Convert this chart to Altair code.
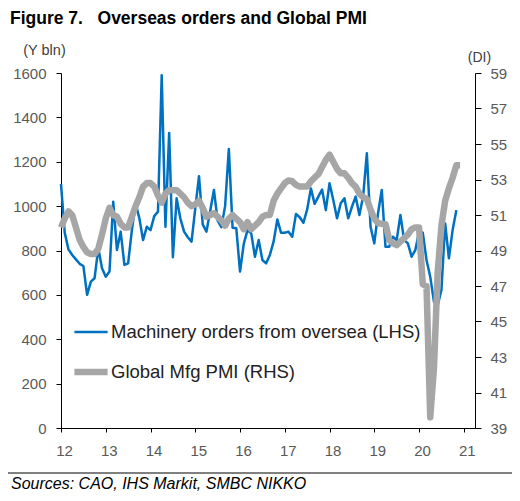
import altair as alt
import pandas as pd

# ---- data ----
ORDERS_SERIES = "Machinery orders from oversea (LHS)"
PMI_SERIES = "Global Mfg PMI (RHS)"

# Machinery orders from overseas, Y bln, monthly from Jan 2012
orders_2012 = [1100, 880, 805, 780, 760, 740, 730, 600, 660, 675, 810, 720]
orders_2013 = [682, 705, 1020, 802, 885, 735, 742, 892, 1013, 946, 847, 907]
orders_2014 = [892, 955, 975, 1590, 907, 1330, 770, 1035, 945, 885, 860, 840]
orders_2015 = [990, 1135, 918, 885, 978, 1073, 935, 905, 1000, 1258, 903, 900]
orders_2016 = [705, 830, 892, 877, 772, 847, 757, 742, 780, 840, 940, 880]
orders_2017 = [880, 885, 862, 965, 950, 925, 985, 1080, 1010, 1043, 1075, 982]
orders_2018 = [1103, 1028, 945, 1013, 1035, 945, 997, 1043, 960, 1043, 1238, 907]
orders_2019 = [832, 968, 1073, 817, 817, 862, 847, 960, 847, 832, 772, 802]
orders_2020 = [885, 880, 757, 682, 569, 554, 622, 922, 765, 892, 982]

# Global manufacturing PMI (DI), monthly from Jan 2012
pmi_2012 = [50.3, 50.8, 51.2, 51.0, 50.3, 49.6, 49.2, 48.9, 48.8, 48.8, 49.1, 49.9]
pmi_2013 = [50.8, 51.4, 51.0, 50.9, 50.5, 50.3, 50.3, 50.9, 51.5, 52.0, 52.6, 52.8]
pmi_2014 = [52.8, 52.6, 52.1, 51.7, 52.2, 52.4, 52.4, 52.4, 52.2, 52.0, 51.7, 51.5]
pmi_2015 = [51.6, 51.8, 51.4, 50.9, 51.0, 51.1, 50.9, 50.7, 50.4, 50.8, 51.0, 50.8]
pmi_2016 = [50.6, 50.2, 50.6, 50.2, 50.4, 50.6, 50.9, 51.0, 51.0, 51.8, 52.2, 52.5]
pmi_2017 = [52.8, 52.95, 52.9, 52.7, 52.6, 52.6, 52.6, 52.9, 53.1, 53.3, 53.7, 54.1]
pmi_2018 = [54.4, 54.0, 53.6, 53.35, 53.35, 53.1, 52.8, 52.6, 52.2, 52.0, 51.9, 51.3]
pmi_2019 = [50.8, 50.55, 50.5, 50.5, 49.6, 49.4, 49.3, 49.5, 49.7, 49.9, 50.2, 50.3]
pmi_2020 = [50.3, 47.1, 47.0, 39.6, 42.4, 47.8, 50.4, 51.8, 52.5, 53.1, 53.8, 53.8]

START_YEAR = 2012
YEAR_TICKS = list(range(2012, 2022))
LEFT_TICKS = list(range(0, 1601, 200))
RIGHT_TICKS = list(range(39, 60, 2))

TITLE = "Figure 7.\u00a0\u00a0 Overseas orders and Global PMI"
SOURCE = "Sources: CAO, IHS Markit, SMBC NIKKO"

orders = (orders_2012 + orders_2013 + orders_2014 + orders_2015 + orders_2016
          + orders_2017 + orders_2018 + orders_2019 + orders_2020)
pmi = (pmi_2012 + pmi_2013 + pmi_2014 + pmi_2015 + pmi_2016
       + pmi_2017 + pmi_2018 + pmi_2019 + pmi_2020)

orders_df = pd.DataFrame({
    "year": [START_YEAR + i / 12 for i in range(len(orders))],
    "value": orders,
    "series": ORDERS_SERIES,
})
pmi_df = pd.DataFrame({
    "year": [START_YEAR + i / 12 for i in range(len(pmi))],
    "value": pmi,
    "series": PMI_SERIES,
})

BLUE = "#0070C0"
GRAY = "#A6A6A6"
FONT = "Liberation Sans"
LABEL_COLOR = "#595959"

x_enc = alt.X(
    "year:Q",
    scale=alt.Scale(domain=[2012, 2021.25], nice=False, zero=False),
    axis=alt.Axis(
        values=YEAR_TICKS,
        labelExpr="slice(toString(datum.value), 2)",
        title=None, grid=False, labelFlush=False,
        domainColor="#000000", tickColor="#000000", tickSize=4,
        labelFontSize=15, labelColor=LABEL_COLOR, labelPadding=11,
        labelFont=FONT, labelOffset=3,
    ),
)

legend = alt.Legend(
    orient="none", legendX=10, legendY=241, title=None,
    symbolType="stroke", symbolSize=1100,
    labelFontSize=18.5, labelColor="#222222", labelFont=FONT,
    labelOffset=0, rowPadding=10, padding=0, labelLimit=0,
)

color_enc = alt.Color(
    "series:N",
    scale=alt.Scale(domain=[ORDERS_SERIES, PMI_SERIES], range=[BLUE, GRAY]),
    legend=legend,
)
width_enc = alt.StrokeWidth(
    "series:N",
    scale=alt.Scale(domain=[ORDERS_SERIES, PMI_SERIES], range=[2.5, 6.5]),
    legend=legend,
)

orders_line = alt.Chart(orders_df).mark_line(strokeJoin="round").encode(
    x=x_enc,
    y=alt.Y(
        "value:Q",
        scale=alt.Scale(domain=[0, 1600], nice=False),
        axis=alt.Axis(
            orient="left", values=LEFT_TICKS, grid=False, format="d",
            title="(Y bln)", titleAngle=0, titleX=-17, titleY=-19,
            titleAlign="center", titleBaseline="alphabetic",
            titleFontSize=14.5, titleFontWeight="normal", titleColor="#404040",
            titleFont=FONT,
            domainColor="#000000", tickColor="#000000", tickSize=5,
            labelFontSize=15, labelColor=LABEL_COLOR, labelPadding=10,
            labelFont=FONT,
        ),
    ),
    color=color_enc,
    strokeWidth=width_enc,
)

pmi_line = alt.Chart(pmi_df).mark_line(strokeJoin="round").encode(
    x=x_enc,
    y=alt.Y(
        "value:Q",
        scale=alt.Scale(domain=[39, 59], nice=False, zero=False),
        axis=alt.Axis(
            orient="right", values=RIGHT_TICKS, grid=False,
            title="(DI)", titleAngle=0, titleX=4, titleY=-12,
            titleAlign="center", titleBaseline="alphabetic",
            titleFontSize=14, titleFontWeight="normal", titleColor="#404040",
            titleFont=FONT,
            domainColor="#000000", tickColor="#000000", tickSize=6,
            labelFontSize=15, labelColor=LABEL_COLOR, labelPadding=9,
            labelFont=FONT,
        ),
    ),
    color=color_enc,
    strokeWidth=width_enc,
)

title_text = alt.Chart(pd.DataFrame({"t": [TITLE]})).mark_text(
    align="left", baseline="alphabetic", font=FONT, fontSize=17.5,
    fontWeight="bold", color="#000000",
).encode(x=alt.value(-51), y=alt.value(-49), text="t:N")

source_text = alt.Chart(pd.DataFrame({"t": [SOURCE]})).mark_text(
    align="left", baseline="alphabetic", font=FONT, fontSize=16,
    fontStyle="italic", color="#000000",
).encode(x=alt.value(-50), y=alt.value(416), text="t:N")

source_rule = alt.Chart(pd.DataFrame({"t": [0]})).mark_rule(
    color="#000000", strokeWidth=1,
).encode(x=alt.value(-53), x2=alt.value(451), y=alt.value(400))

chart = alt.layer(
    orders_line, pmi_line, title_text, source_text, source_rule
).resolve_scale(
    y="independent"
).properties(
    width=414, height=355,
    autosize=alt.AutoSizeParams(type="none"),
    padding={"left": 53, "top": 65, "right": 37, "bottom": 65},
    background="white",
).configure_view(stroke=None)

chart.save("out.html", embed_options={"renderer": "svg", "actions": False})
